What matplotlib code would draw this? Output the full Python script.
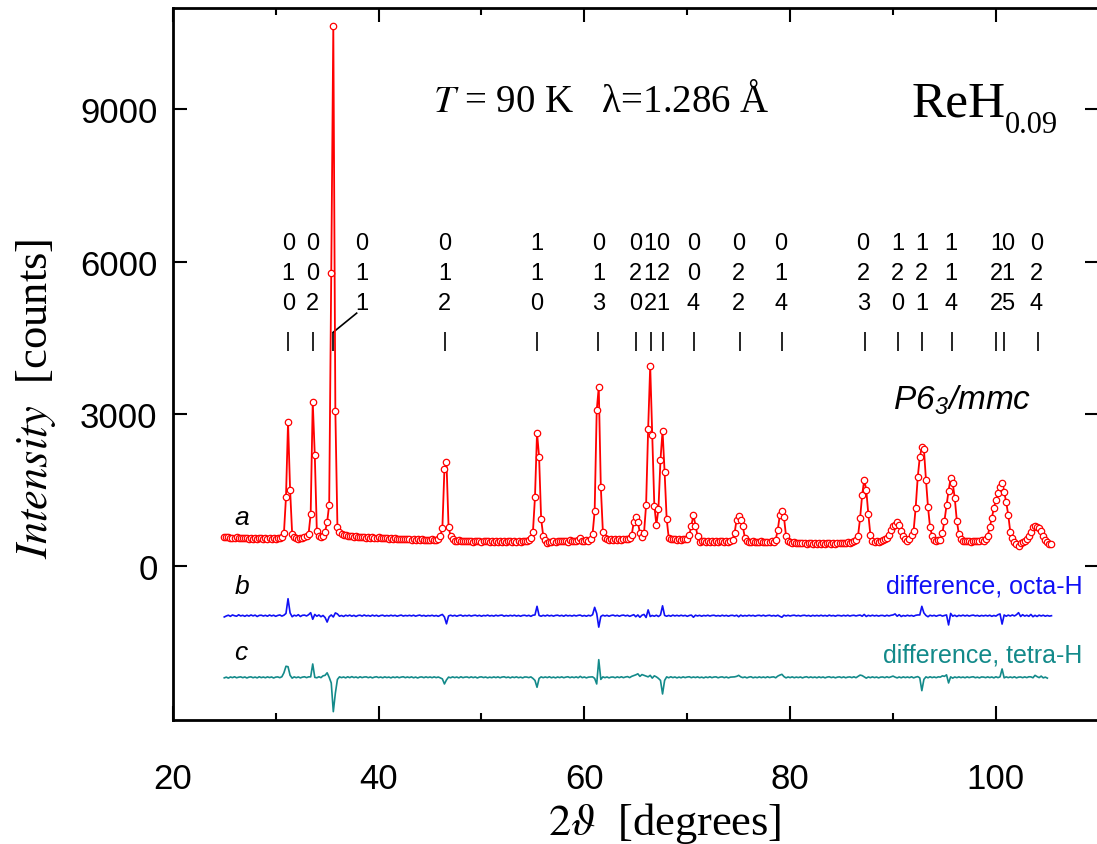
import matplotlib
matplotlib.use("Agg")
import matplotlib.pyplot as plt
import numpy as np

# measured pattern a (counts), 2theta grid 25.0 .. 105.4 in steps of 0.2 deg
two_theta = np.round(np.arange(25.0, 105.41, 0.2), 1)

counts = [
    585, 570, 578, 560, 566, 552, 571, 548, 560, 555,   # 25
    548, 562, 540, 556, 545, 560, 538, 552, 547, 541,   # 27
    555, 536, 549, 543, 552, 538, 548, 560, 570, 650,   # 29
    1360, 2840, 1510, 640, 570, 560, 545, 555, 560, 575,   # 31
    600, 640, 1030, 3245, 2190, 690, 600, 570, 600, 680,   # 33
    870, 1214, 5780, 10650, 3050, 780, 680, 640, 620, 610,   # 35
    600, 590, 605, 585, 590, 575, 580, 570, 585, 565,   # 37
    575, 560, 570, 565, 555, 570, 552, 560, 548, 556,   # 39
    545, 552, 540, 548, 535, 545, 530, 542, 528, 538,   # 41
    530, 525, 535, 520, 532, 518, 528, 522, 515, 525,   # 43
    518, 528, 515, 522, 540, 600, 750, 1920, 2050, 780,   # 45
    590, 540, 505, 490, 512, 495, 505, 488, 500, 492,   # 47
    498, 485, 505, 490, 495, 482, 500, 488, 495, 480,   # 49
    492, 485, 498, 480, 490, 487, 495, 482, 490, 488,   # 51
    485, 495, 480, 492, 486, 498, 490, 505, 510, 560,   # 53
    670, 1360, 2630, 2160, 930, 600, 520, 455, 480, 470,   # 55
    495, 480, 500, 488, 505, 492, 498, 485, 510, 495,   # 57
    502, 490, 508, 565, 505, 498, 515, 505, 530, 640,   # 59
    1080, 3070, 3530, 1560, 680, 560, 540, 525, 535, 520,   # 61
    530, 518, 535, 522, 540, 530, 545, 560, 617, 867,   # 63
    978, 867, 656, 584, 656, 1208, 2706, 3950, 2594, 1195,   # 65
    814, 1129, 2101, 2673, 1853, 932, 560, 545, 530, 540,   # 67
    525, 540, 520, 535, 528, 530, 617, 800, 1011, 800,   # 69
    600, 473, 490, 500, 485, 495, 480, 492, 486, 490,   # 71
    482, 495, 488, 480, 492, 485, 498, 520, 656, 919,   # 73
    997, 915, 790, 560, 500, 480, 475, 490, 478, 485,   # 75
    472, 488, 480, 470, 485, 476, 490, 482, 525, 722,   # 77
    1011, 1096, 965, 600, 490, 470, 455, 468, 450, 462,   # 79
    455, 448, 462, 445, 458, 450, 440, 455, 447, 460,   # 81
    445, 452, 440, 458, 448, 442, 455, 446, 460, 450,   # 83
    448, 462, 455, 470, 465, 480, 490, 520, 600, 946,   # 85
    1405, 1707, 1500, 1025, 620, 500, 480, 495, 485, 500,   # 87
    510, 530, 560, 620, 720, 800, 815, 867, 820, 700,   # 89
    600, 530, 500, 538, 620, 700, 1150, 1750, 2150, 2345,   # 91
    2310, 1707, 1163, 769, 600, 520, 500, 510, 520, 656,   # 93
    899, 1200, 1490, 1740, 1642, 1340, 899, 630, 540, 500,   # 95
    490, 505, 495, 485, 500, 490, 505, 495, 510, 500,   # 97
    530, 600, 769, 946, 1150, 1300, 1450, 1560, 1642, 1470,   # 99
    1260, 1011, 670, 560, 480, 430, 406, 450, 480, 500,   # 101
    540, 600, 680, 769, 790, 780, 750, 700, 600, 520,   # 103
    470, 440, 440,   # 105
]

# difference curve b (octahedral H model), plotted shifted
diff_octa = [
    -25, -5, 10, -12, 15, 0, -10, 18, -5, 8,   # 25
    -12, 10, -8, 15, -4, 12, -15, 6, 10, -6,   # 27
    8, -10, 14, -5, 10, -12, 5, 15, -8, 10,   # 29
    45, 335, 55, -20, 10, -5, 20, -15, 8, 12,   # 31
    -5, 20, 60, -70, 25, -10, 15, -20, 5, -35,   # 33
    -125, -20, 15, -25, 55, 35, -10, 5, -15, 10,   # 35
    -5, 12, -10, 8, -15, 5, 10, -8, 14, -5,   # 37
    6, -10, 12, -6, 9, -12, 4, 10, -8, 5,   # 39
    -6, 10, -4, 8, -10, 3, 12, -7, 5, -3,   # 41
    8, -5, 10, -9, 4, 12, -6, 7, -10, 5,   # 43
    -4, 9, -7, 5, -12, 8, 25, -25, -160, -5,   # 45
    10, -6, 8, -10, 5, 12, -8, 6, -4, 10,   # 47
    -7, 4, 10, -5, 8, -10, 6, -3, 12, -6,   # 49
    5, -8, 10, -4, 7, 12, -9, 5, -6, 8,   # 51
    -4, 10, -7, 6, -10, 5, 9, -5, 8, -12,   # 53
    10, 15, 185, 5, -10, 8, -6, 12, -5, 7,   # 55
    -8, 6, 10, -5, 8, -10, 12, -4, 6, -7,   # 57
    9, -5, 7, 12, -8, 5, -10, 8, -4, 20,   # 59
    165, 45, -225, -15, 10, -6, 8, -10, 5, 12,   # 61
    -5, 8, -10, 6, 12, -4, 9, -12, 5, 20,   # 63
    -20, 15, -30, 10, 25, -35, 115, -15, 5, -10,   # 65
    10, -15, 15, 195, 5, -10, 6, -10, 12, -5,   # 67
    8, -6, 10, -4, 7, -12, 5, 12, -30, 10,   # 69
    -5, 8, -10, 6, -4, 10, -7, 5, 9, -6,   # 71
    4, -8, 10, -5, 7, -10, 5, 8, -6, 10,   # 73
    -20, 12, -8, 5, -6, 10, -4, 7, -9, 5,   # 75
    8, -5, 10, -7, 4, 9, -6, 5, -8, 10,   # 77
    -12, -30, 10, -5, 8, -6, 5, 10, -4, 6,   # 79
    -7, 5, 9, -4, 6, -10, 8, -5, 7, -6,   # 81
    10, -5, 6, -8, 12, -4, 5, -9, 7, 4,   # 83
    -6, 8, -5, 10, -7, 4, 9, -5, 6, 12,   # 85
    -10, 25, -15, 8, -6, 10, -5, 7, -8, 5,   # 87
    6, -9, 10, -5, 8, 15, 35, -10, 20, -15,   # 89
    5, -8, 10, -5, 6, -10, 8, 15, 15, 185,   # 91
    55, 5, -20, 10, -5, 8, -10, 6, 12, -8,   # 93
    5, 15, -182, 45, -10, 10, -15, 8, -5, 12,   # 95
    -6, 10, -8, 5, 12, -4, 7, -10, 6, -5,   # 97
    8, -6, 10, -12, 5, -8, 20, 35, -165, 15,   # 99
    -10, 12, -6, 15, -5, 20, 60, -15, 20, -8,   # 101
    10, -12, 25, -20, 8, -15, 12, -6, 10, -10,   # 103
    5, -8, 0,   # 105
]

# difference curve c (tetrahedral H model), ends at 105.0
diff_tetra = [
    -10, 5, -15, 8, -5, 12, -8, 4, 10, -6,   # 25
    8, -12, 5, 10, -7, 6, -10, 12, -5, 7,   # 27
    -8, 10, -4, 8, -12, 5, 9, -6, 12, 90,   # 29
    219, 210, 40, -15, 10, -6, 8, -10, 5, 12,   # 31
    -5, 10, 10, 264, 0, -8, 12, -5, 30, 40,   # 33
    90, 0, -110, -676, -310, -40, 10, -5, 8, -10,   # 35
    12, -6, 15, -4, 8, -10, 12, -5, 7, 10,   # 37
    -6, 8, -10, 5, 12, -5, 7, -8, 10, -4,   # 39
    6, -10, 8, -5, 10, -7, 5, 12, -6, 8,   # 41
    -5, 10, -8, 6, -12, 5, 9, -6, 10, -4,   # 43
    8, -6, 10, -5, 7, -10, -30, -130, -50, 5,   # 45
    -8, 10, -5, 7, -10, 12, -6, 5, 8, -7,   # 47
    10, -5, 8, -12, 6, 10, -4, 7, -9, 5,   # 49
    -6, 9, -5, 10, -8, 6, 12, -5, 7, -10,   # 51
    8, -4, 10, -7, 5, -10, 8, 6, -5, 10,   # 53
    -20, -60, -195, -20, 10, -6, 8, -5, 12, -8,   # 55
    6, -10, 8, -5, 10, -7, 5, 12, -6, 8,   # 57
    -5, 10, -8, 20, -6, 8, -10, 5, 7, 10,   # 59
    -20, -130, 349, -40, 10, -6, 8, -10, 5, 7,   # 61
    -8, 10, -5, 12, -6, 8, 15, -5, 20, 35,   # 63
    50, 70, 20, 55, 40, 25, 10, 40, -15, 30,   # 65
    10, -20, -60, -327, -60, 10, -8, 12, -5, 8,   # 67
    -10, 6, -8, 10, -5, 7, 12, -6, 8, -4,   # 69
    10, -7, 5, -10, 8, -5, 12, -6, 7, 10,   # 71
    -8, 5, 10, -6, 8, -10, 5, 7, 10, 20,   # 73
    40, 10, -5, 8, -10, 6, 12, -8, 5, -6,   # 75
    10, -5, 8, -7, 12, -4, 6, 10, -8, 25,   # 77
    45, 60, 15, -10, 8, -5, 10, -7, 6, -4,   # 79
    8, -10, 5, 12, -6, 9, -5, 7, -8, 10,   # 81
    -5, 8, -10, 6, 12, -4, 7, -9, 5, 10,   # 83
    -6, 10, -8, 5, 9, -5, 12, -7, 20, 45,   # 85
    35, 10, -15, 8, -6, 10, -5, 7, -10, 5,   # 87
    8, -6, 12, -4, 10, 25, 5, -10, 8, -8,   # 89
    10, -5, 8, -6, 12, -10, 5, 15, -10, -262,   # 91
    -40, 10, -8, 12, -5, 8, -6, 10, 5, 30,   # 93
    20, 50, -110, 10, -15, 8, -6, 10, -5, 7,   # 95
    -8, 10, -5, 6, 12, -7, 5, -10, 8, 6,   # 97
    -6, 10, -5, 8, -10, 12, -5, 10, 166, -10,   # 99
    10, -5, 8, -6, 12, -10, 5, 8, -6, 10,   # 101
    -5, 12, 10, -8, 40, 15, -5, 25, -10, 5,   # 103
    -15,   # 105
]

offset_octa = -975
offset_tetra = -2190

# Bragg reflections of P6_3/mmc
bragg_pos = [31.22, 33.65, 35.6, 46.45, 55.42, 61.29, 64.98, 66.44, 67.6, 70.65,
             75.12, 79.17, 87.27, 90.51, 92.84, 95.75, 100.0, 100.8, 104.05]
hkl = ['010', '002', '011', '012', '110', '013', '020', '112', '021', '004',
       '022', '014', '023', '120', '121', '114', '122', '015', '024']
hkl_x = [31.22, 33.6, 38.36, 46.4, 55.35, 61.4, 64.98, 66.4, 67.65, 70.58,
         74.98, 79.1, 87.1, 90.45, 92.78, 95.63, 100.05, 101.15, 103.95]

plt.rcParams['font.family'] = ['Liberation Sans', 'DejaVu Sans']
plt.rcParams['mathtext.fontset'] = 'stix'
plt.rcParams['mathtext.rm'] = 'Liberation Sans:italic'
plt.rcParams['mathtext.it'] = 'Liberation Sans:italic'
plt.rcParams['mathtext.bf'] = 'Liberation Sans:italic'

fig = plt.figure(figsize=(10.97, 8.45), dpi=100)
ax = fig.add_axes([172.8 / 1097, 124 / 845, 926 / 1097, 712 / 845])

x = two_theta
ax.plot(x, counts, '-', color='red', lw=1.3, marker='o', ms=4.6,
        mfc='white', mec='red', mew=0.9, zorder=3)
ax.plot(x, np.array(diff_octa) + offset_octa, color='#1010f5', lw=1.2)
ax.plot(x[:len(diff_tetra)], np.array(diff_tetra) + offset_tetra,
        color='#138a8a', lw=1.2)

# Bragg markers and hkl labels
ax.vlines(bragg_pos, 4250, 4612, color='black', lw=1.2)
ax.plot([35.6, 37.87], [4612, 4987], color='black', lw=1.2)
row_y = [6254, 5663, 5071]
for xl, lab in zip(hkl_x, hkl):
    for ch, yy in zip(lab, row_y):
        ax.text(xl, yy, ch, ha='center', va='baseline', fontsize=17)

serif = ['Liberation Serif', 'DejaVu Serif']
ax.text(45.3, 8975, r'$T$ = 90 K   λ=1.286 Å', fontsize=28, family=serif,
        math_fontfamily='stix', va='baseline')
ax.text(91.85, 8876, 'ReH', fontsize=37, family=serif, va='baseline')
ax.text(100.9, 8560, '0.09', fontsize=22, family=serif, va='baseline')
ax.text(90.0, 3100, r'$P6_3/mmc$', fontsize=24, math_fontfamily='custom',
        va='baseline')

ax.text(26.7, 966, 'a', fontsize=19, style='italic', ha='center', va='center')
ax.text(26.7, -382, 'b', fontsize=19, style='italic', ha='center', va='center')
ax.text(26.6, -1695, 'c', fontsize=19, style='italic', ha='center', va='center')
ax.text(108.45, -370, 'difference, octa-H', fontsize=18, color='#1010f5',
        ha='right', va='center')
ax.text(108.45, -1730, 'difference, tetra-H', fontsize=18, color='#138a8a',
        ha='right', va='center')

ax.set_xlim(20, 110)
ax.set_ylim(-3030, 11000)
ax.set_xticks([20, 40, 60, 80, 100])
ax.set_xticks([30, 50, 70, 90, 110], minor=True)
ax.set_yticks([0, 3000, 6000, 9000])
ax.tick_params(axis='both', which='major', direction='in', length=10, width=1.5,
               labelsize=25, top=True, right=True)
ax.tick_params(axis='both', which='minor', direction='in', length=5, width=1.5,
               top=True)
ax.tick_params(axis='x', which='major', pad=30)
ax.tick_params(axis='y', which='major', pad=11)
for s in ax.spines.values():
    s.set_linewidth(2.0)

ax.set_xlabel(r'$2\vartheta$  [degrees]', fontsize=32, family=serif,
              math_fontfamily='stix')
ax.xaxis.set_label_coords(0.5315, -0.113)
ax.set_ylabel(r'$\mathit{Intensity}$  [counts]', fontsize=32, family=serif,
              math_fontfamily='stix')
ax.yaxis.set_label_coords(-0.124, 0.452)

fig.savefig('out.png', dpi=100)
